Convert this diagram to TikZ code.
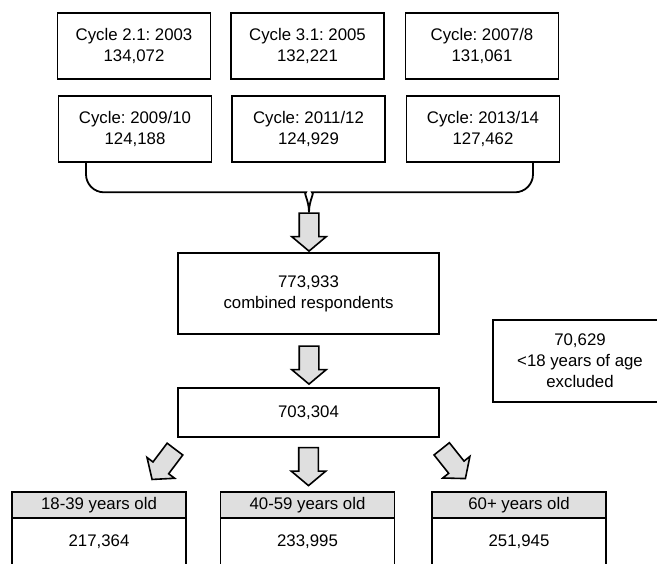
\documentclass[tikz,border=0pt]{standalone}
\usepackage{fontspec}
\setmainfont{Liberation Sans}
\usetikzlibrary{shapes.arrows}

\tikzset{
	box/.style={draw, line width=1.8pt, rectangle, inner sep=0pt, align=center,
		font=\fontsize{16.8}{21}\selectfont\frenchspacing},
	cyclebox/.style={box, minimum width=153pt, minimum height=66pt},
	bigbox/.style={box, minimum width=261pt},
	agehead/.style={box, fill=gray!25, minimum width=174pt, minimum height=26pt},
	agebody/.style={box, minimum width=174pt, minimum height=48pt},
	fatarrow/.style={single arrow, draw, line width=1.6pt, fill=gray!25,
		inner xsep=0pt, inner ysep=9pt, minimum height=38pt,
		single arrow head extend=7.5pt, single arrow tip angle=100},
	brace/.style={line width=1.8pt, rounded corners=18pt}
}

\begin{document}
\begin{tikzpicture}[x=1pt, y=-1pt]
		\clip (0,0) rectangle (657,564);

		\draw (134,46) node [cyclebox] (c1) {Cycle 2.1: 2003\\134,072};
		\draw (307.5,46) node [cyclebox] (c2) {Cycle 3.1: 2005\\132,221};
		\draw (482,46) node [cyclebox] (c3) {Cycle: 2007/8\\131,061};
		\draw (135,129) node [cyclebox] (c4) {Cycle: 2009/10\\124,188};
		\draw (308.5,129) node [cyclebox] (c5) {Cycle: 2011/12\\124,929};
		\draw (483,129) node [cyclebox] (c6) {Cycle: 2013/14\\127,462};

		\draw (308.5,293.5) node [bigbox, minimum height=81pt] (comb) {773,933\\combined respondents};
		\draw (580,361) node [box, minimum width=174pt, minimum height=82pt] (excl) {70,629\\<18 years of age\\excluded};
		\draw (308.5,412.5) node [bigbox, minimum height=49pt] (total) {703,304};

		\draw (99,505) node [agehead] (young) {18-39 years old};
		\draw (99,542) node [agebody] (youngn) {217,364};
		\draw (307.5,505) node [agehead] (mid) {40-59 years old};
		\draw (307.5,542) node [agebody] (midn) {233,995};
		\draw (519,505) node [agehead] (old) {60+ years old};
		\draw (519,542) node [agebody] (oldn) {251,945};

		\draw (309,228) node [fatarrow, rotate=-90] (a1) {};
		\draw (309,361) node [fatarrow, rotate=-90] (a2) {};
		\draw (166,461) node [fatarrow, rotate=-127] (a3) {};
		\draw (308.5,462.5) node [fatarrow, rotate=-90] (a4) {};
		\draw (451,460.5) node [fatarrow, rotate=-51.5] (a5) {};

		\draw [brace] ([xshift=-49pt]c4.south) |- ([xshift=-21pt, yshift=20pt]a1.tail)
			[sharp corners] .. controls +(15pt,0) and +(0,12pt) .. (a1.tail);
		\draw [brace] ([xshift=50pt]c6.south) |- ([xshift=21pt, yshift=20pt]a1.tail)
			[sharp corners] .. controls +(-15pt,0) and +(0,12pt) .. (a1.tail);
	\end{tikzpicture}
\end{document}
